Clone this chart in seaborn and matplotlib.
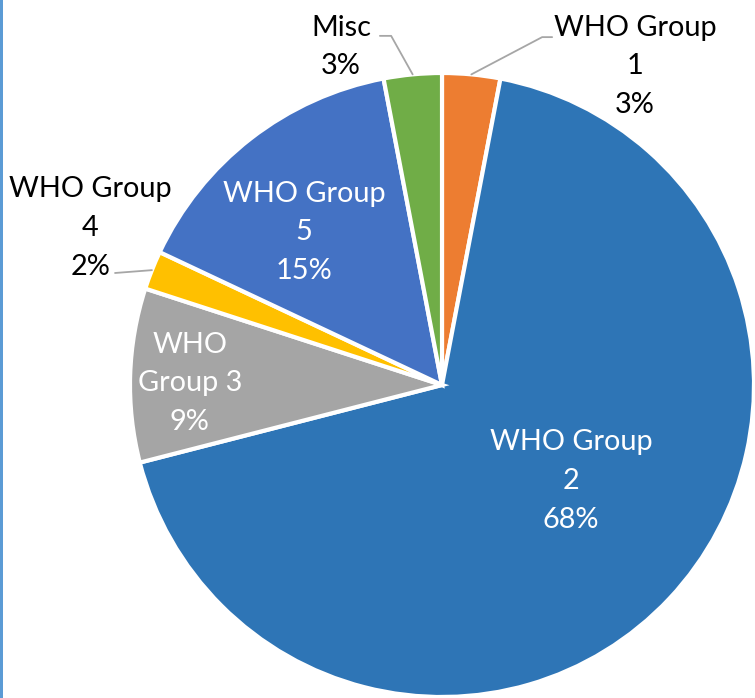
import matplotlib
matplotlib.use("Agg")
import matplotlib.pyplot as plt
import numpy as np
import seaborn as sns
from matplotlib.lines import Line2D
from matplotlib.patches import Rectangle

sns.set_theme(style="white")
plt.rcParams["font.family"] = ["Lato", "DejaVu Sans"]

# Share of patients by classification group (percent)
groups = ["WHO Group\n1", "WHO Group\n2", "WHO\nGroup 3", "WHO Group\n4", "WHO Group\n5", "Misc"]
shares = [3, 68, 9, 2, 15, 3]
colors = ["#ED7D31", "#2E75B6", "#A5A5A5", "#FFC000", "#4472C4", "#70AD47"]

W, H = 755, 698
fig = plt.figure(figsize=(W / 100, H / 100), dpi=100)
fig.patch.set_facecolor("white")

cx, cy, r = 442, 385, 312
ax = fig.add_axes([(cx - r) / W, (H - cy - r) / H, 2 * r / W, 2 * r / H])

wedges, _ = ax.pie(
    shares,
    colors=sns.color_palette(colors),
    startangle=90,
    counterclock=False,
    radius=1,
    wedgeprops=dict(edgecolor="white", linewidth=3),
)
ax.set_xlim(-1, 1)
ax.set_ylim(-1, 1)
ax.axis("off")
for w in wedges:
    w.set_clip_on(False)

fs = 20.8
ls = 1.6

# label placement: (x, y, text colour)
placement = {
    0: (0.619, 1.022, "black"),
    1: (0.413, -0.308, "white"),
    2: (-0.808, 0.006, "white"),
    3: (-1.128, 0.503, "black"),
    4: (-0.442, 0.490, "white"),
    5: (-0.324, 1.083, "black"),
}
for i, (name, v) in enumerate(zip(groups, shares)):
    x, y, c = placement[i]
    ax.text(x, y, f"{name}\n{v:.0f}%", ha="center", va="center",
            fontsize=fs, color=c, linespacing=ls, multialignment="center")

# leader lines for the small outside labels
cum = np.cumsum([0] + shares)
def edge_point(i):
    mid = (cum[i] + cum[i + 1]) / 2 / sum(shares) * 360
    a = np.deg2rad(90 - mid)
    return np.cos(a), np.sin(a)

leaders = {
    0: [(0.321, 1.115), (0.353, 1.115)],
    5: [(-0.163, 1.119), (-0.199, 1.119)],
    3: [(-1.048, 0.359)],
}
for i, pts in leaders.items():
    ex, ey = edge_point(i)
    xs = [ex] + [p[0] for p in pts]
    ys = [ey] + [p[1] for p in pts]
    ax.add_line(Line2D(xs, ys, color="#A6A6A6", lw=1.3, clip_on=False))

# thin blue frame edge on the left
fig.add_artist(Rectangle((0, 0), 2.5 / W, 1, transform=fig.transFigure,
                         facecolor="#5B9BD5", edgecolor="none"))

fig.savefig("out.png", dpi=100)
